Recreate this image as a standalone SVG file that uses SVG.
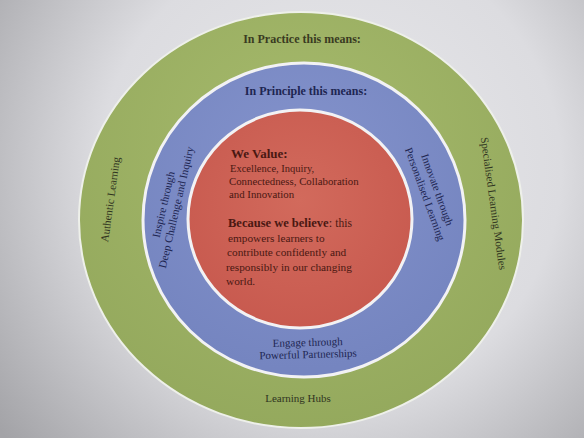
<svg xmlns="http://www.w3.org/2000/svg" width="584" height="438" viewBox="0 0 584 438">
  <style>
    text { font-family: "Liberation Serif", "Times New Roman", serif; }
    .hd { font-weight: bold; font-size: 12px; text-anchor: middle; }
    .g { fill: #30341f; font-size: 11px; }
    .b { fill: #1e2652; font-size: 11px; }
    .r { fill: #4a1812; }
    .mid { text-anchor: middle; }
  </style>
  <defs>
    <radialGradient id="bg" cx="330" cy="170" r="420" gradientUnits="userSpaceOnUse">
      <stop offset="0" stop-color="#e8e8eb"/>
      <stop offset="0.55" stop-color="#dcdce0"/>
      <stop offset="1" stop-color="#a3a3a7"/>
    </radialGradient>
    <radialGradient id="gg" cx="300" cy="150" r="300" gradientUnits="userSpaceOnUse">
      <stop offset="0" stop-color="#a6ba6c"/>
      <stop offset="1" stop-color="#93a85c"/>
    </radialGradient>
    <radialGradient id="bb" cx="300" cy="170" r="200" gradientUnits="userSpaceOnUse">
      <stop offset="0" stop-color="#8493cc"/>
      <stop offset="1" stop-color="#7585c0"/>
    </radialGradient>
    <radialGradient id="rr" cx="300" cy="200" r="130" gradientUnits="userSpaceOnUse">
      <stop offset="0" stop-color="#d26a5c"/>
      <stop offset="1" stop-color="#c85a4f"/>
    </radialGradient>
  </defs>
  <rect x="0" y="0" width="584" height="438" fill="url(#bg)"/>

  <g id="practice-ring">
    <ellipse cx="301" cy="220" rx="222" ry="208" fill="url(#gg)" stroke="#eef0ea" stroke-width="2"/>
    <text class="hd" x="302" y="43" fill="#3a3b22">In Practice this means:</text>
    <text class="g mid" transform="translate(114,200) rotate(-82)">Authentic Learning</text>
    <text class="g mid" transform="translate(490,204) rotate(82)">Specialised Learning Modules</text>
    <text class="g mid" x="298" y="402">Learning Hubs</text>
  </g>

  <g id="principle-ring">
    <ellipse cx="304" cy="220" rx="161" ry="157" fill="url(#bb)" stroke="#f2f2f4" stroke-width="3"/>
    <text class="hd" x="306" y="95" fill="#1e2652">In Principle this means:</text>
    <text class="b mid" transform="translate(170,206) rotate(-77)"><tspan x="0" y="-3">Inspire through</tspan><tspan x="0" y="10">Deep Challenge and Inquiry</tspan></text>
    <text class="b mid" transform="translate(431,192) rotate(70)"><tspan x="0" y="-3">Innovate through</tspan><tspan x="0" y="10">Personalised Learning</tspan></text>
    <text class="b mid" transform="rotate(-1.5 308 352)"><tspan x="308" y="346">Engage through</tspan><tspan x="308" y="358">Powerful Partnerships</tspan></text>
  </g>

  <g id="values-core">
    <ellipse cx="300" cy="219" rx="112" ry="109" fill="url(#rr)" stroke="#f2f2f4" stroke-width="3"/>
    <text class="r" x="231" y="158" font-size="13" font-weight="bold">We Value:</text>
    <text class="r" x="230" y="172" font-size="10.5">Excellence, Inquiry,</text>
    <text class="r" x="229" y="185" font-size="10.8">Connectedness, Collaboration</text>
    <text class="r" x="229" y="198" font-size="10.8">and Innovation</text>
    <text class="r" x="228" y="227" font-size="12.5"><tspan font-weight="bold">Because we believe</tspan>: <tspan font-size="11.5">this</tspan></text>
    <text class="r" x="228" y="242" font-size="11.3">empowers learners to</text>
    <text class="r" x="227" y="256" font-size="11.3">contribute confidently and</text>
    <text class="r" x="226" y="271" font-size="11.3">responsibly in our changing</text>
    <text class="r" x="226" y="285" font-size="11.3">world.</text>
  </g>
</svg>
